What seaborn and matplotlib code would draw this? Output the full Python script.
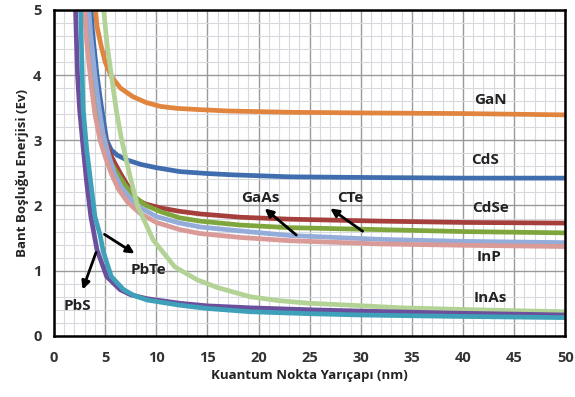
import numpy as np
import pandas as pd
import seaborn as sns
import matplotlib.pyplot as plt
from matplotlib.ticker import MultipleLocator

# Okunan değerler (yarıçap nm, bant boşluğu eV)
gan_x = [3.8, 4.2, 4.6, 5.0, 5.6, 6.5, 7.7, 9, 10.4, 12, 14.3, 17, 20, 23, 30, 40, 50]
gan_y = [5.4, 4.75, 4.45, 4.2, 3.98, 3.8, 3.67, 3.58, 3.52, 3.49, 3.47, 3.45, 3.44, 3.43, 3.42, 3.41, 3.39]

cds_x = [3.5, 3.8, 4.2, 4.6, 5.15, 5.6, 6.2, 7.1, 8.5, 10, 12.3, 15, 17.5, 23, 30, 40, 50]
cds_y = [5.2, 4.6, 4.0, 3.55, 3.0, 2.85, 2.77, 2.7, 2.63, 2.58, 2.52, 2.49, 2.47, 2.44, 2.43, 2.42, 2.42]

cdse_x = [3.2, 3.5, 3.9, 4.4, 5.0, 5.7, 6.5, 7.3, 8.1, 9.0, 10.5, 12.3, 14.3, 18.2, 23, 31.9, 40, 50]
cdse_y = [5.2, 4.5, 3.9, 3.4, 3.0, 2.72, 2.49, 2.28, 2.09, 2.02, 1.96, 1.91, 1.87, 1.82, 1.79, 1.76, 1.74, 1.73]

cte_x = [3.1, 3.4, 3.8, 4.2, 4.7, 5.2, 6.2, 7.0, 8.0, 9.0, 10.5, 12.3, 14.3, 18.2, 23, 31.9, 40, 50]
cte_y = [5.2, 4.5, 3.9, 3.4, 3.0, 2.75, 2.49, 2.3, 2.12, 2.0, 1.9, 1.81, 1.76, 1.70, 1.66, 1.63, 1.60, 1.58]

gaas_x = [3.3, 3.6, 4.0, 4.4, 4.8, 5.3, 5.9, 6.6, 7.5, 8.4, 10, 12.3, 14.3, 18.2, 23, 31.9, 40, 50]
gaas_y = [5.2, 4.6, 4.0, 3.5, 3.1, 2.8, 2.49, 2.28, 2.1, 1.97, 1.83, 1.73, 1.67, 1.61, 1.54, 1.48, 1.45, 1.43]

inp_x = [2.9, 3.2, 3.6, 4.0, 4.5, 5.0, 5.6, 6.3, 7.2, 8.4, 10, 12.3, 14.3, 18.2, 23, 31.9, 40, 50]
inp_y = [5.2, 4.5, 3.9, 3.4, 3.0, 2.75, 2.49, 2.25, 2.05, 1.88, 1.74, 1.63, 1.57, 1.51, 1.46, 1.41, 1.39, 1.37]

inas_x = [4.6, 4.85, 5.2, 5.65, 6.1, 6.62, 7.37, 8.15, 9.7, 11.8, 14, 16, 19.2, 22, 25, 29, 34, 38.7, 44, 50]
inas_y = [5.4, 5.0, 4.45, 3.95, 3.45, 3.0, 2.49, 2.0, 1.47, 1.06, 0.86, 0.74, 0.60, 0.54, 0.50, 0.47, 0.43, 0.41, 0.39, 0.37]

pbs_x = [2.0, 2.1, 2.3, 2.5, 2.87, 3.2, 3.6, 4.2, 5.15, 6.45, 7.5, 9.1, 12.3, 15, 19.2, 25, 30, 38.7, 50]
pbs_y = [5.4, 5.0, 4.0, 3.47, 2.85, 2.34, 1.83, 1.32, 0.91, 0.71, 0.63, 0.57, 0.50, 0.46, 0.43, 0.40, 0.38, 0.35, 0.32]

pbte_x = [2.5, 2.6, 2.72, 2.85, 3.2, 3.6, 4.0, 4.5, 4.8, 5.6, 6.8, 7.8, 9.1, 12.3, 15, 19.2, 25, 30, 38.7, 50]
pbte_y = [5.4, 5.0, 4.2, 3.47, 2.85, 2.34, 1.83, 1.55, 1.3, 0.91, 0.71, 0.62, 0.55, 0.47, 0.42, 0.37, 0.34, 0.32, 0.30, 0.28]

materials = ["GaN", "CdS", "CdSe", "CTe", "GaAs", "InP", "InAs", "PbS", "PbTe"]
xs = [gan_x, cds_x, cdse_x, cte_x, gaas_x, inp_x, inas_x, pbs_x, pbte_x]
ys = [gan_y, cds_y, cdse_y, cte_y, gaas_y, inp_y, inas_y, pbs_y, pbte_y]
colors = ["#E0843E", "#3F6DAE", "#A53F3B", "#7FA53D", "#93ACD9",
          "#D99A98", "#B3D295", "#6B4F9C", "#3FA1B9"]

# Uzun formatta tablo
frames = []
for name, x, y in zip(materials, xs, ys):
    frames.append(pd.DataFrame({"r": x, "E": y, "material": name}))
df = pd.concat(frames, ignore_index=True)

sns.set_style("white")
plt.rcParams["font.family"] = ["Open Sans", "DejaVu Sans"]
fig = plt.figure(figsize=(5.75, 3.97), dpi=100)
ax = fig.add_axes([0.094, 0.154, 0.889, 0.821])

sns.lineplot(data=df, x="r", y="E", hue="material", hue_order=materials,
             palette=dict(zip(materials, colors)), linewidth=3.4,
             estimator=None, sort=False, legend=False, ax=ax)
for line in ax.get_lines():
    line.set_solid_joinstyle("round")
    line.set_solid_capstyle("round")

ax.set_xlim(0, 50)
ax.set_ylim(0, 5)
ax.xaxis.set_major_locator(MultipleLocator(5))
ax.xaxis.set_minor_locator(MultipleLocator(1))
ax.yaxis.set_major_locator(MultipleLocator(1))
ax.yaxis.set_minor_locator(MultipleLocator(0.2))
ax.grid(which="major", color="#9a9a9a", linewidth=1.0)
ax.grid(which="minor", color="#d6d9de", linewidth=0.8)
ax.set_axisbelow(True)
for s in ax.spines.values():
    s.set_color("black")
    s.set_linewidth(1.8)

ax.tick_params(axis="both", which="both", length=0, labelsize=10.5, labelcolor="#333333")
ax.tick_params(axis="x", pad=11)
ax.tick_params(axis="y", pad=9)
for lbl in ax.get_xticklabels() + ax.get_yticklabels():
    lbl.set_fontweight("bold")

ax.set_xlabel("Kuantum Nokta Yarıçapı (nm)", fontsize=9.5, fontweight="bold", color="#222222", labelpad=3)
ax.set_ylabel("Bant Boşluğu Enerjisi (Ev)", fontsize=9.5, fontweight="bold", color="#222222", labelpad=3)

# Etiketler
labels = {"GaN": (42.7, 3.62), "CdS": (42.2, 2.70), "CdSe": (42.7, 1.96),
          "InP": (42.5, 1.21), "InAs": (42.7, 0.58), "GaAs": (20.2, 2.12),
          "CTe": (29.0, 2.12), "PbTe": (9.2, 1.01), "PbS": (2.25, 0.46)}
for name, (tx, ty) in labels.items():
    ax.text(tx, ty, name, fontsize=11, fontweight="bold", color="#222222",
            ha="center", va="center")

# Oklar
arrows = [((23.9, 1.52), (20.4, 1.98)), ((30.4, 1.58), (26.8, 1.98)),
          ((4.7, 1.58), (8.1, 1.24)), ((4.2, 1.32), (2.7, 0.67))]
for tail, head in arrows:
    ax.annotate("", xy=head, xytext=tail,
                arrowprops=dict(arrowstyle="-|>", color="black", lw=2, mutation_scale=12))

plt.savefig("out.png", dpi=100)
